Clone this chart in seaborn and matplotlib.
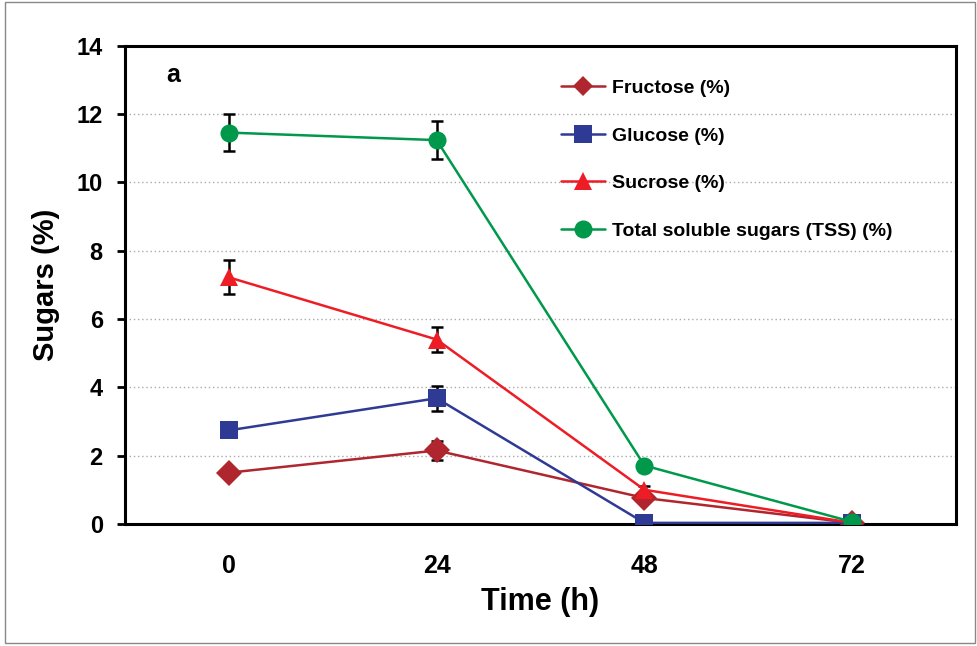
import pandas as pd
import matplotlib
matplotlib.use("Agg")
import matplotlib.pyplot as plt
import seaborn as sns
from matplotlib.patches import Rectangle

# data
time_h = [0, 24, 48, 72]
fructose = [1.50, 2.15, 0.76, 0.03]
glucose = [2.74, 3.68, 0.03, 0.03]
sucrose = [7.22, 5.40, 1.00, 0.03]
tss = [11.46, 11.24, 1.71, 0.06]

fructose_err = [0.10, 0.27, 0.05, 0.0]
glucose_err = [0.10, 0.37, 0.0, 0.0]
sucrose_err = [0.50, 0.38, 0.10, 0.0]
tss_err = [0.53, 0.55, 0.08, 0.0]

series_names = ['Fructose (%)', 'Glucose (%)', 'Sucrose (%)', 'Total soluble sugars (TSS) (%)']
series_values = [fructose, glucose, sucrose, tss]
series_errors = [fructose_err, glucose_err, sucrose_err, tss_err]
colors = ['#B0262F', '#2E3A93', '#EE1C25', '#00984A']
markers = ['D', 's', '^', 'o']
marker_sizes = [10, 13, 13, 13]

sns.set_theme(style='white')
plt.rcParams['font.family'] = ['Liberation Sans', 'DejaVu Sans']
plt.rcParams['font.weight'] = 'bold'
plt.rcParams['text.color'] = 'black'
plt.rcParams['axes.labelcolor'] = 'black'
plt.rcParams['xtick.color'] = 'black'
plt.rcParams['ytick.color'] = 'black'

rows = []
for name, vals in zip(series_names, series_values):
    for t, v in zip(time_h, vals):
        rows.append({'Time': t, 'Sugar': name, 'Value': v})
df = pd.DataFrame(rows)

fig = plt.figure(figsize=(9.77, 6.46), dpi=100)
ax = fig.add_axes([0.128, 0.189, 0.8505, 0.740])

# error bars behind the lines
for vals, errs in zip(series_values, series_errors):
    ax.errorbar(time_h, vals, yerr=errs, fmt='none', ecolor='black',
                elinewidth=1.8, capsize=4, capthick=1.8, zorder=1)

sns.lineplot(data=df, x='Time', y='Value', hue='Sugar', style='Sugar',
             hue_order=series_names, style_order=series_names,
             palette=dict(zip(series_names, colors)),
             markers=dict(zip(series_names, markers)),
             dashes=False, linewidth=1.8, markersize=13,
             markeredgewidth=0, ax=ax, zorder=3)

# per-series marker sizes
for line, ms in zip(ax.get_lines()[-4:], marker_sizes):
    line.set_markersize(ms)

ax.set_xlim(-12, 84)
ax.set_ylim(0, 14)
ax.set_xticks(time_h)
ax.set_yticks(range(0, 15, 2))
ax.tick_params(axis='x', length=0, pad=22, labelsize=18)
ax.tick_params(axis='y', length=6, width=2, direction='out', pad=10, labelsize=17, left=True)
for lab in ax.get_xticklabels() + ax.get_yticklabels():
    lab.set_fontweight('bold')

for y in range(2, 14, 2):
    ax.axhline(y, color='#AAAAAA', linestyle=(0, (1, 2)), linewidth=1.0, zorder=0)

for sp in ax.spines.values():
    sp.set_color('black')
    sp.set_linewidth(2.2)

ax.set_xlabel('Time (h)', fontsize=22, fontweight='bold', labelpad=6)
ax.set_ylabel('Sugars (%)', fontsize=21, fontweight='bold', labelpad=12)

ax.text(0.058, 0.94, 'a', transform=ax.transAxes, fontsize=18, fontweight='bold',
        ha='center', va='center')

handles, labels = ax.get_legend_handles_labels()
leg = ax.legend(handles[-4:], labels[-4:], loc='upper left', bbox_to_anchor=(0.503, 0.967),
                frameon=False, fontsize=14, labelspacing=1.55, handlelength=2.3,
                handletextpad=0.35)
for txt in leg.get_texts():
    txt.set_fontweight('bold')

fig.patches.append(Rectangle((0.005, 0.004), 0.993, 0.993, transform=fig.transFigure,
                             fill=False, edgecolor='#888888', linewidth=1.0))

fig.savefig('out.png', dpi=100)
